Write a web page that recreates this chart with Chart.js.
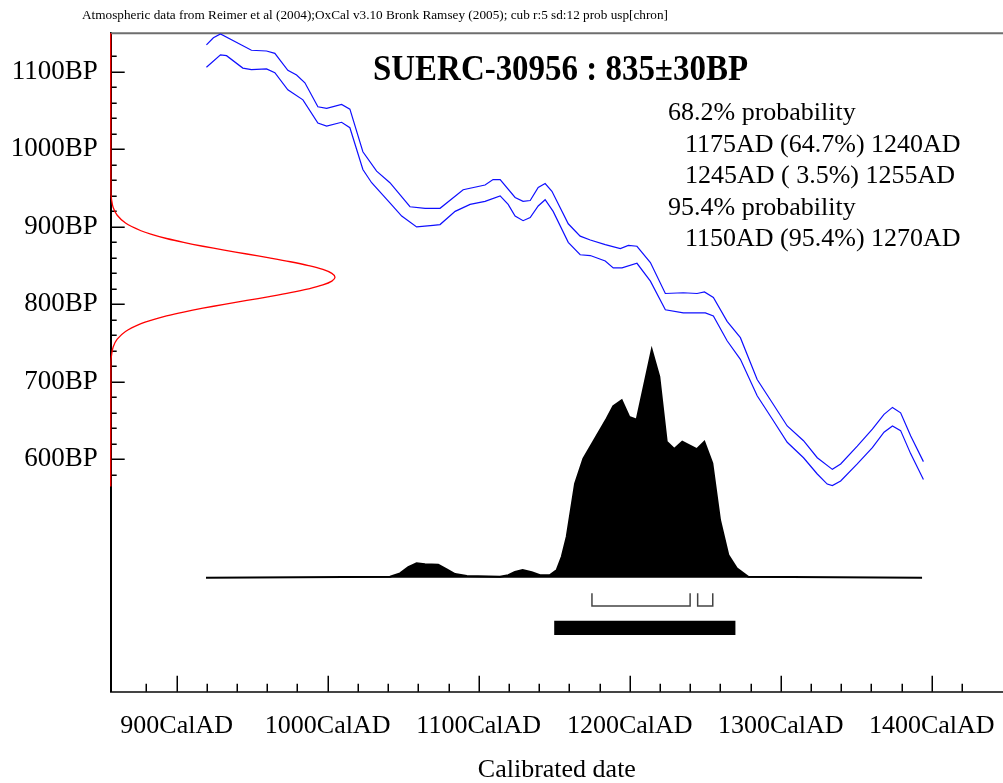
<!DOCTYPE html>
<html>
<head>
<meta charset="utf-8">
<script src="https://cdn.jsdelivr.net/npm/chart.js@4.4.1/dist/chart.umd.min.js"></script>
<style>
  html, body { margin: 0; padding: 0; background: #fff; }
  canvas { display: block; }
</style>
</head>
<body>
<canvas id="oxcal" width="1003" height="783"></canvas>
<script>
// calibration curve (1 sigma envelope), calendar year AD -> radiocarbon age BP
const upperYears = [919.7, 924.3, 929.0, 949.5, 959.5, 965.0, 973.6, 979.4, 984.9, 993.5, 999.3, 1009.2, 1014.7, 1023.3, 1032.4, 1041.2, 1054.5, 1064.5, 1074.4, 1089.7, 1104.2, 1109.5, 1114.2, 1124.1, 1129.4, 1134.1, 1139.4, 1144.0, 1148.5, 1159.3, 1167.2, 1173.9, 1183.8, 1193.8, 1199.1, 1204.8, 1213.7, 1223.6, 1235.5, 1244.6, 1249.5, 1255.4, 1264.5, 1273.3, 1284.4, 1294.4, 1304.3, 1315.1, 1324.2, 1334.2, 1339.7, 1350.7, 1360.7, 1368.4, 1374.0, 1379.4, 1386.1, 1394.5];
const upperBP = [1135, 1144, 1149, 1128, 1127, 1124, 1102, 1096, 1086, 1055, 1053, 1058, 1052, 997, 972, 957, 926, 924, 924, 948, 954, 961, 961, 938, 933, 934, 951, 956, 946, 904, 888, 883, 877, 872, 876, 875, 854, 814, 815, 814, 816, 809, 778, 757, 703, 673, 643, 624, 602, 587, 594, 617, 639, 658, 667, 660, 630, 597];
const lowerYears = [919.7, 929.0, 933.0, 943.8, 949.5, 959.5, 965.0, 973.6, 983.6, 993.5, 999.3, 1009.2, 1014.7, 1023.3, 1029.1, 1041.2, 1049.0, 1058.9, 1069.8, 1074.4, 1084.4, 1094.3, 1104.2, 1114.2, 1119.5, 1124.1, 1129.4, 1134.1, 1139.4, 1144.0, 1149.3, 1159.3, 1167.2, 1173.9, 1183.8, 1189.1, 1194.9, 1204.8, 1213.7, 1223.6, 1235.5, 1250.1, 1255.4, 1264.5, 1273.3, 1284.4, 1294.4, 1304.3, 1315.1, 1324.2, 1330.8, 1334.2, 1339.7, 1350.7, 1360.7, 1368.4, 1374.0, 1379.4, 1386.1, 1394.5];
const lowerBP = [1106, 1122, 1121, 1105, 1103, 1104, 1099, 1077, 1064, 1034, 1030, 1035, 1028, 974, 957, 931, 914, 900, 902, 903, 920, 929, 933, 940, 929, 914, 908, 912, 927, 935, 920, 880, 864, 863, 856, 847, 847, 853, 830, 793, 789, 789, 785, 753, 729, 682, 652, 622, 602, 581, 568, 566, 572, 594, 615, 635, 643, 637, 607, 574];

// measured date 835±30BP, drawn against the BP axis (relative height)
const gaussBP = [1150, 945, 935, 925, 915, 905, 895, 890, 885, 880, 875, 870, 865, 860, 855, 850, 845, 840, 835, 830, 825, 820, 815, 810, 805, 800, 795, 790, 785, 780, 775, 765, 755, 745, 735, 725, 565];
const gaussAmp = [0, 0.001, 0.004, 0.011, 0.029, 0.066, 0.135, 0.186, 0.249, 0.325, 0.411, 0.506, 0.607, 0.707, 0.801, 0.882, 0.946, 0.986, 1, 0.986, 0.946, 0.882, 0.801, 0.707, 0.607, 0.506, 0.411, 0.325, 0.249, 0.186, 0.135, 0.066, 0.029, 0.011, 0.004, 0.001, 0];

// calibrated probability distribution (relative)
const probYears = [919.4, 1041.3, 1047.9, 1053.4, 1058.9, 1064.4, 1073.2, 1078.8, 1084.3, 1092.1, 1114.1, 1119.6, 1124.0, 1129.1, 1135.1, 1140.6, 1147.2, 1151.7, 1155.0, 1158.3, 1163.8, 1169.3, 1184.8, 1189.1, 1194.7, 1199.7, 1204.6, 1214.6, 1219.6, 1224.5, 1229.5, 1234.8, 1244.4, 1249.4, 1254.7, 1259.8, 1265.3, 1270.9, 1278.5, 1393.6];
const probValues = [0, 0.004, 0.019, 0.046, 0.063, 0.059, 0.057, 0.037, 0.016, 0.007, 0.004, 0.011, 0.025, 0.034, 0.024, 0.011, 0.012, 0.034, 0.092, 0.180, 0.413, 0.523, 0.699, 0.753, 0.779, 0.706, 0.694, 1.0, 0.883, 0.597, 0.565, 0.597, 0.564, 0.597, 0.502, 0.253, 0.100, 0.041, 0.004, 0];

// ranges
const range68 = [[1175, 1240], [1245, 1255]];
const range95 = [[1150, 1270]];

const titleText = 'SUERC-30956 : 835\u00b130BP';
const noteText = 'Atmospheric data from Reimer et al (2004);OxCal v3.10 Bronk Ramsey (2005); cub r:5 sd:12 prob usp[chron]';
const rangeLines = [
    ['68.2% probability', 0],
    ['1175AD (64.7%) 1240AD', 1],
    ['1245AD ( 3.5%) 1255AD', 1],
    ['95.4% probability', 0],
    ['1150AD (95.4%) 1270AD', 1]
];

// layout
const SERIF = "'Liberation Serif', 'Times New Roman', serif";
const X_MIN = 856.3, X_MAX = 1447.2;
const Y_MIN = 300, Y_MAX = 1150;
const BRACKET_TOP = -0.068, BRACKET_BOTTOM = -0.124, BAR_LEVEL = -0.22;

const pts = (xs, ys) => xs.map((v, i) => ({ x: v, y: ys[i] }));

const bracketData = [];
range68.forEach(([a, b]) => {
    bracketData.push({ x: a, y: BRACKET_TOP }, { x: a, y: BRACKET_BOTTOM }, { x: b, y: BRACKET_BOTTOM }, { x: b, y: BRACKET_TOP }, { x: b, y: null });
});
const barData = [];
range95.forEach(([a, b]) => {
    barData.push({ x: a, y: BAR_LEVEL }, { x: b, y: BAR_LEVEL }, { x: b, y: null });
});

function fitText(ctx, text, x, y, width, font) {
    ctx.font = font;
    const w = ctx.measureText(text).width;
    ctx.save();
    ctx.translate(x, y);
    ctx.scale(width / w, 1);
    ctx.textAlign = 'left';
    ctx.textBaseline = 'alphabetic';
    ctx.fillText(text, 0, 0);
    ctx.restore();
}

const oxcalDecor = {
    id: 'oxcalDecor',
    beforeDatasetsDraw(chart) {
        const { ctx, chartArea: a, scales: { x, y } } = chart;
        ctx.save();
        ctx.strokeStyle = '#000';
        ctx.lineWidth = 1.5;
        ctx.beginPath();
        y.ticks.forEach(t => {
            const py = Math.round(y.getPixelForValue(t.value)) + 0.25;
            const len = t.value % 100 === 0 ? 14 : 6;
            ctx.moveTo(a.left, py);
            ctx.lineTo(a.left + len, py);
        });
        x.ticks.forEach(t => {
            const px = Math.round(x.getPixelForValue(t.value)) + 0.25;
            const len = t.value % 100 === 0 ? 16 : 8;
            ctx.moveTo(px, a.bottom);
            ctx.lineTo(px, a.bottom - len);
        });
        ctx.stroke();
        // top frame
        ctx.strokeStyle = '#6e6e6e';
        ctx.lineWidth = 2;
        ctx.beginPath();
        ctx.moveTo(a.left, a.top);
        ctx.lineTo(a.right, a.top);
        ctx.stroke();
        ctx.restore();
    },
    afterDraw(chart) {
        const ctx = chart.ctx;
        ctx.save();
        ctx.fillStyle = '#000';
        fitText(ctx, noteText, 82, 19, 586, '12px ' + SERIF);
        fitText(ctx, titleText, 373, 80, 375, 'bold 36px ' + SERIF);
        ctx.font = '26px ' + SERIF;
        ctx.textAlign = 'left';
        ctx.textBaseline = 'alphabetic';
        rangeLines.forEach(([txt, indent], i) => {
            ctx.fillText(txt, indent ? 685 : 668, 120 + i * 31.5);
        });
        ctx.restore();
    }
};

new Chart(document.getElementById('oxcal'), {
    type: 'line',
    data: {
        datasets: [
            { data: pts(upperYears, upperBP), borderColor: '#0f0fff', borderWidth: 1.2, xAxisID: 'x', yAxisID: 'y' },
            { data: pts(lowerYears, lowerBP), borderColor: '#0f0fff', borderWidth: 1.2, xAxisID: 'x', yAxisID: 'y' },
            { data: pts(gaussAmp, gaussBP), borderColor: '#ff0000', borderWidth: 1.3, tension: 0.35, xAxisID: 'x2', yAxisID: 'y', clip: false },
            { data: pts(probYears, probValues), borderColor: '#000', backgroundColor: '#000', borderWidth: 2, fill: 'origin', xAxisID: 'x', yAxisID: 'y2' },
            { data: bracketData, borderColor: '#444', borderWidth: 1.5, xAxisID: 'x', yAxisID: 'y2' },
            { data: barData, borderColor: '#000', borderWidth: 14.3, borderCapStyle: 'butt', xAxisID: 'x', yAxisID: 'y2' }
        ]
    },
    options: {
        responsive: false,
        animation: false,
        devicePixelRatio: 1,
        layout: { padding: { top: 33.2, left: 0, right: 0, bottom: 0 } },
        elements: { point: { radius: 0 }, line: { tension: 0 } },
        plugins: { legend: { display: false }, tooltip: { enabled: false } },
        scales: {
            x: {
                type: 'linear', position: 'bottom', min: X_MIN, max: X_MAX,
                afterFit: s => { s.height = 91.3; },
                afterBuildTicks: s => { s.ticks = s.ticks.filter(t => t.value % 20 === 0); },
                border: { display: true, color: '#444', width: 2 },
                grid: { drawOnChartArea: false, drawTicks: false },
                ticks: {
                    stepSize: 20, autoSkip: false, maxRotation: 0, padding: 19, color: '#000',
                    font: { family: SERIF, size: 26 },
                    callback: v => v % 100 === 0 ? v + 'CalAD' : ''
                },
                title: { display: true, text: 'Calibrated date', color: '#000', font: { family: SERIF, size: 26, lineHeight: 1 }, padding: { top: 0, bottom: 0 } }
            },
            y: {
                type: 'linear', position: 'left', min: Y_MIN, max: Y_MAX,
                afterFit: s => { s.width = 110.7; },
                afterBuildTicks: s => { s.ticks = s.ticks.filter(t => t.value % 20 === 0 && t.value >= 580); },
                border: { display: true, color: '#000', width: 2 },
                grid: { drawOnChartArea: false, drawTicks: false },
                ticks: {
                    stepSize: 20, autoSkip: false, padding: 13, color: '#000',
                    font: { family: SERIF, size: 27 },
                    callback: v => (v % 100 === 0 && v >= 600 && v <= 1100) ? v + 'BP' : ''
                }
            },
            x2: { type: 'linear', display: false, min: 0, max: 3.978 },
            y2: { type: 'linear', display: false, min: -0.5007, max: 2.391 }
        }
    },
    plugins: [oxcalDecor]
});
</script>
</body>
</html>
